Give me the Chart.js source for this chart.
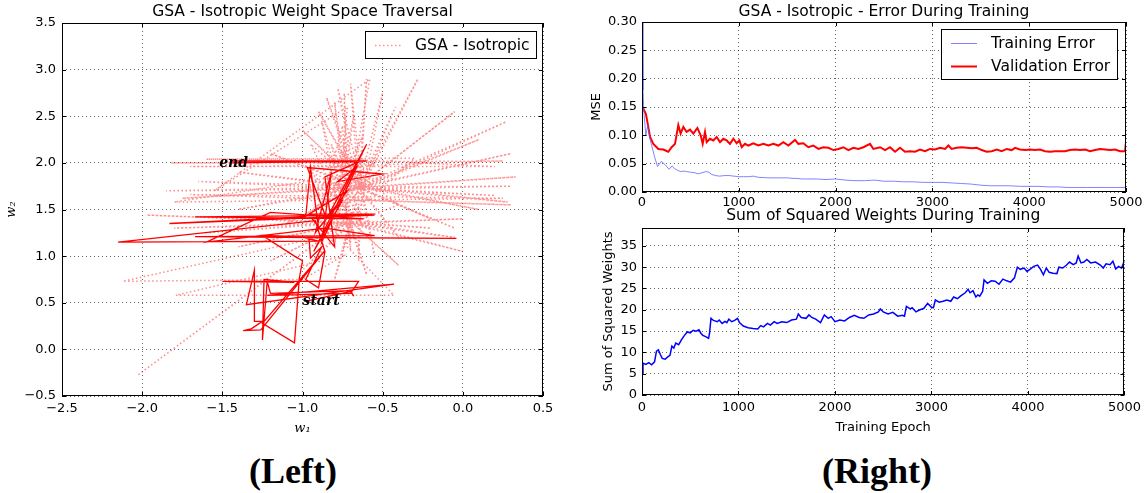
<!DOCTYPE html>
<html>
<head>
<meta charset="utf-8">
<script src="https://cdn.jsdelivr.net/npm/chart.js@4.4.1/dist/chart.umd.min.js"></script>
<style>
  body { margin: 0; background: #fff; width: 1146px; height: 493px; overflow: hidden; position: relative; }
  canvas { position: absolute; }
  #cLeft { left: 0; top: 0; }
  #cErr { left: 580px; top: 0; }
  #cSsw { left: 580px; top: 206px; }
  .panel { position: absolute; top: 450px; width: 200px; line-height: 40px; text-align: center;
           font: bold 36px "Liberation Serif", serif; color: #000; }
</style>
</head>
<body>
<canvas id="cLeft" width="560" height="440"></canvas>
<canvas id="cErr" width="566" height="210"></canvas>
<canvas id="cSsw" width="566" height="234"></canvas>
<div class="panel" style="left:193px">(Left)</div>
<div class="panel" style="left:777px">(Right)</div>
<script>
// ---- left: weight space traversal (w1, w2) ----
// dotted trail (GSA - Isotropic)
const dottedW1 = [
  -0.64, -0.60, -0.65, -0.70, -0.63, -0.78, -0.66, -0.85, -0.64, -0.90,
  -0.62, -0.50, -0.65, -0.42, -0.63, -0.28, -0.64, -0.05, -0.66, 0.27,
  -0.64, 0.10, -0.63, 0.30, -0.65, 0.33, -0.64, 0.30, -0.66, 0.20,
  -0.64, 0.28, -0.63, 0.10, -0.65, -0.05, -0.64, -0.20, -0.66, -0.40,
  -0.64, -0.55, -0.63, -0.65, -0.65, -0.75, -0.64, -0.90, -0.66, -1.10,
  -0.64, -1.40, -0.63, -1.75, -0.65, -1.85, -0.64, -1.65, -0.66, -1.40,
  -0.64, -1.20, -0.63, -1.00, -0.65, -0.95, -0.70, -1.97, -0.71, -1.80,
  -0.69, -1.60, -0.70, -1.40, -0.72, -1.20, -0.70, -1.00, -0.69, -0.80,
  -0.71, -0.60, -0.70, -0.40, -0.69, 0.00, -0.71, -0.05, -0.70, -0.20,
  -0.72, 0.00, -0.70, -0.40, -0.75, -1.82, 0.25, -0.72, -1.70, 0.20,
  -0.74, -1.60, -0.30, -0.84, -2.03, -0.85, -2.12, -1.00, -0.75, -1.79,
  -0.43, -0.72, -0.74, -0.70, -0.80, -0.68, -0.88, -0.75, -0.58, -1.55,
  -0.72, -0.80, -0.68, -0.85, -0.62, -0.90, -0.75, -0.70, -0.82, -0.60,
  -0.95, -0.55, -1.00, -0.50, -0.90, -0.55, -0.85, -0.65, -0.78, -0.60,
  -1.80, 0.25, -1.70, 0.30, -0.70
];
const dottedW2 = [
  1.74, 2.90, 1.72, 2.85, 1.76, 2.80, 1.73, 2.70, 1.75, 2.55,
  1.72, 2.75, 1.74, 2.60, 1.73, 2.90, 1.76, 2.55, 1.74, 2.44,
  1.72, 2.25, 1.75, 2.10, 1.73, 1.85, 1.74, 1.75, 1.72, 1.65,
  1.73, 1.58, 1.75, 1.50, 1.74, 1.30, 1.72, 1.40, 1.75, 1.20,
  1.73, 1.00, 1.74, 0.95, 1.76, 1.05, 1.72, 1.20, 1.74, 1.35,
  1.75, 1.50, 1.73, 1.62, 1.74, 1.70, 1.72, 1.80, 1.75, 1.90,
  1.73, 2.10, 1.74, 2.35, 1.76, 2.20, 1.36, 1.44, 1.35, 1.30,
  1.37, 1.25, 1.36, 1.10, 1.35, 0.95, 1.37, 0.85, 1.36, 0.75,
  1.35, 0.80, 1.37, 0.90, 1.36, 1.05, 1.35, 1.20, 1.37, 1.30,
  1.36, 1.40, 1.35, 1.55, 2.00, 2.00, 2.02, 1.97, 1.96, 1.96,
  2.04, 2.04, 2.05, 1.24, -0.28, 1.22, 0.73, 0.75, 1.00, 0.58,
  0.58, 1.10, 2.75, 1.05, 2.65, 1.20, 2.45, 1.30, 2.90, 1.70,
  2.60, 1.10, 2.50, 1.25, 2.30, 1.40, 2.40, 1.15, 2.20, 1.30,
  1.90, 1.60, 1.70, 1.85, 1.55, 2.00, 1.95, 1.45, 2.15, 1.90,
  1.58, 1.62, 1.66, 1.55, 1.60
];
// solid trail
const solidW1 = [
  -0.97, -0.70, -0.68, -0.70, -1.20, -1.22, -1.25, -1.24, -1.05, -1.50,
  -0.65, -0.70, -1.22, -0.43, -1.35, -1.30, -1.30, -1.25, -1.32, -1.37,
  -1.26, -0.86, -1.25, -1.05, -1.02, -1.00, -1.05, -1.25, -0.96, -0.95,
  -0.88, -0.98, -0.90, -0.86, -0.92, -2.15, -0.90, -1.00, -0.04, -0.94,
  -1.67, -0.55, -0.86, -1.60, -1.20, -0.62, -1.67, -0.55, -1.83, -0.98,
  -0.95, -0.90, -0.75, -0.93, -0.60, -0.85, -0.97, -0.50, -0.78, -0.66,
  -0.88, -0.82, -0.92, -0.72, -0.96, -0.55, -0.94, -0.80, -0.86, -0.65,
  -1.45, -0.60, -1.45
];
const solidW2 = [
  0.52, 0.62, 0.57, 0.63, 0.60, 0.73, 0.10, 0.75, 0.72, 0.73,
  0.73, 0.60, 0.58, 0.70, 0.48, 0.85, 0.30, 0.30, 0.22, 0.20,
  0.21, 1.06, 0.28, 0.07, 0.76, 0.95, 1.00, 1.22, 1.20, 0.98,
  1.10, 0.75, 0.66, 1.05, 1.38, 1.15, 1.16, 1.20, 1.19, 1.20,
  1.21, 1.22, 1.30, 1.15, 1.47, 1.40, 1.42, 1.44, 1.35, 1.42,
  1.95, 1.30, 1.60, 1.05, 2.20, 1.40, 1.95, 1.88, 1.80, 1.96,
  1.15, 1.90, 1.25, 1.70, 1.45, 1.45, 1.40, 1.10, 1.85, 2.01,
  2.02, 2.02, 2.00
];
const noteText = ['end', 'start'];
const noteW1 = [-1.52, -1.00];
const noteW2 = [2.00, 0.52];

// ---- right top: error during training ----
const trainEpochs = [
  0, 10, 20, 30, 40, 60, 80, 100, 130, 160,
  200, 240, 280, 310, 340, 370, 400, 430, 460, 500,
  540, 580, 620, 660, 690, 720, 760, 800, 850, 900,
  950, 1000, 1050, 1100, 1150, 1200, 1300, 1400, 1500, 1560,
  1600, 1650, 1700, 1800, 1900, 2000, 2100, 2200, 2300, 2400,
  2500, 2600, 2700, 2800, 2900, 3000, 3100, 3200, 3300, 3400,
  3500, 3600, 3700, 3800, 3900, 4000, 4100, 4200, 4300, 4400,
  4500, 4600, 4700, 4800, 4900, 5000
];
const trainErr = [
  0.300, 0.180, 0.140, 0.120, 0.100, 0.118, 0.095, 0.082, 0.062, 0.045,
  0.054, 0.048, 0.040, 0.046, 0.041, 0.038, 0.036, 0.037, 0.036, 0.035,
  0.034, 0.032, 0.034, 0.036, 0.035, 0.031, 0.029, 0.028, 0.029, 0.029,
  0.028, 0.027, 0.027, 0.027, 0.028, 0.026, 0.025, 0.025, 0.025, 0.024,
  0.024, 0.023, 0.023, 0.023, 0.022, 0.023, 0.021, 0.020, 0.020, 0.021,
  0.019, 0.019, 0.018, 0.018, 0.017, 0.017, 0.017, 0.016, 0.015, 0.014,
  0.012, 0.011, 0.011, 0.011, 0.010, 0.010, 0.010, 0.009, 0.009, 0.008,
  0.008, 0.008, 0.008, 0.008, 0.008, 0.008
];
const validEpochs = [
  0, 14, 40, 65, 83, 117, 169, 220, 272, 306,
  341, 375, 399, 427, 461, 496, 530, 572, 606, 627,
  651, 668, 702, 737, 771, 806, 840, 875, 909, 944,
  978, 1006, 1030, 1064, 1099, 1150, 1202, 1254, 1305, 1357,
  1409, 1460, 1512, 1581, 1615, 1667, 1718, 1770, 1822, 1873,
  1925, 1977, 2029, 2080, 2132, 2184, 2235, 2287, 2356, 2390,
  2459, 2511, 2562, 2614, 2666, 2717, 2769, 2821, 2872, 2924,
  2976, 3027, 3079, 3131, 3165, 3199, 3251, 3303, 3354, 3406,
  3458, 3509, 3561, 3613, 3664, 3716, 3768, 3819, 3854, 3905,
  3957, 4009, 4060, 4112, 4164, 4215, 4267, 4319, 4370, 4422,
  4474, 4525, 4577, 4629, 4680, 4732, 4784, 4835, 4887, 4939,
  4990, 5000, 5000
];
const validErr = [
  0.150, 0.147, 0.138, 0.115, 0.097, 0.085, 0.076, 0.075, 0.071, 0.079,
  0.085, 0.118, 0.103, 0.115, 0.106, 0.110, 0.103, 0.113, 0.100, 0.085,
  0.106, 0.088, 0.094, 0.091, 0.097, 0.088, 0.094, 0.091, 0.085, 0.094,
  0.086, 0.091, 0.079, 0.085, 0.082, 0.086, 0.082, 0.085, 0.082, 0.085,
  0.082, 0.088, 0.082, 0.092, 0.085, 0.086, 0.079, 0.082, 0.076, 0.079,
  0.078, 0.074, 0.076, 0.079, 0.074, 0.078, 0.076, 0.079, 0.085, 0.076,
  0.079, 0.074, 0.079, 0.071, 0.078, 0.071, 0.072, 0.071, 0.075, 0.072,
  0.076, 0.075, 0.078, 0.076, 0.082, 0.076, 0.078, 0.079, 0.078, 0.077,
  0.078, 0.074, 0.071, 0.072, 0.075, 0.072, 0.076, 0.074, 0.078, 0.075,
  0.074, 0.075, 0.074, 0.075, 0.072, 0.071, 0.072, 0.072, 0.072, 0.074,
  0.075, 0.074, 0.075, 0.072, 0.074, 0.076, 0.075, 0.074, 0.075, 0.072,
  0.072, 0.088, 0.035
];

// ---- right bottom: sum of squared weights ----
const sswEpochs = [
  0, 10, 40, 70, 100, 130, 150, 170, 190, 210,
  240, 270, 290, 310, 330, 350, 380, 410, 440, 470,
  500, 530, 560, 590, 610, 630, 660, 690, 700, 715,
  740, 780, 800, 830, 860, 880, 900, 930, 960, 990,
  1010, 1050, 1100, 1150, 1200, 1230, 1260, 1300, 1330, 1370,
  1400, 1450, 1500, 1550, 1600, 1620, 1650, 1700, 1730, 1760,
  1800, 1850, 1890, 1930, 1960, 2000, 2050, 2100, 2150, 2200,
  2250, 2300, 2350, 2400, 2450, 2470, 2500, 2550, 2600, 2650,
  2700, 2720, 2740, 2780, 2800, 2840, 2880, 2920, 2960, 3000,
  3020, 3040, 3080, 3120, 3160, 3200, 3230, 3270, 3300, 3350,
  3380, 3400, 3430, 3460, 3480, 3500, 3530, 3545, 3580, 3620,
  3660, 3700, 3740, 3780, 3820, 3860, 3890, 3920, 3960, 3990,
  4020, 4060, 4100, 4130, 4160, 4190, 4220, 4260, 4300, 4320,
  4360, 4400, 4430, 4470, 4500, 4520, 4550, 4580, 4610, 4650,
  4700, 4750, 4780, 4810, 4850, 4880, 4910, 4940, 4970, 5000
];
const sswValues = [
  5.0, 7.5, 7.2, 7.6, 7.1, 7.8, 10.3, 10.6, 9.5, 8.6,
  8.4, 9.0, 9.3, 11.5, 11.0, 12.2, 11.8, 13.0, 14.0, 14.8,
  14.6, 15.2, 15.0, 15.3, 14.5, 14.0, 13.7, 13.3, 14.5, 18.0,
  17.5, 17.2, 17.6, 16.8, 17.3, 17.0, 17.8, 17.2, 17.5, 18.0,
  17.0, 16.2, 15.8, 15.6, 15.5, 16.3, 16.0, 16.8, 16.4, 17.2,
  16.8, 17.2, 17.0, 17.6, 17.8, 19.0, 18.2, 18.0, 18.8, 18.2,
  17.8, 17.0, 18.8, 18.0, 18.4, 17.2, 17.6, 17.4, 18.2, 18.7,
  18.2, 18.0, 18.8, 19.0, 19.5, 20.2, 19.5, 19.0, 19.4, 18.5,
  18.7, 18.5, 20.8, 20.2, 20.5, 19.5, 20.0, 20.3, 21.5, 20.6,
  20.5, 22.3, 21.8, 22.0, 22.3, 22.0, 23.0, 22.6, 23.2, 24.0,
  24.8, 24.0, 24.5, 23.0, 23.5, 23.2, 24.3, 27.0, 26.2, 26.8,
  26.7, 26.0, 27.2, 26.8, 26.5, 27.5, 30.0, 29.5, 29.8, 29.0,
  29.5, 30.2, 30.5, 29.5, 28.2, 29.8, 28.8, 28.6, 28.5, 30.0,
  29.8, 30.5, 31.2, 30.6, 31.0, 32.6, 31.0, 31.2, 31.8, 31.0,
  31.2, 30.5, 29.8, 30.8, 30.6, 31.4, 29.6, 30.2, 29.8, 31.5
];

function pts(xs, ys) {
  return xs.map((x, i) => ({ x: x, y: ys[i] }));
}
function fmt(d) {
  return v => (v < 0 ? '\u2212' : '') + Math.abs(v).toFixed(d);
}

Chart.defaults.font.family = '"DejaVu Sans", sans-serif';
Chart.defaults.font.size = 13;
Chart.defaults.color = '#000';

// box round the plot + inward tick marks
const framePlugin = {
  id: 'frame',
  afterDatasetsDraw(chart) {
    const { ctx, chartArea: a, scales } = chart;
    ctx.save();
    ctx.strokeStyle = '#000';
    ctx.lineWidth = 1;
    ctx.beginPath();
    scales.x.ticks.forEach(t => {
      const p = Math.round(scales.x.getPixelForValue(t.value)) + 0.5;
      ctx.moveTo(p, a.bottom); ctx.lineTo(p, a.bottom - 4);
      ctx.moveTo(p, a.top); ctx.lineTo(p, a.top + 4);
    });
    scales.y.ticks.forEach(t => {
      const p = Math.round(scales.y.getPixelForValue(t.value)) + 0.5;
      ctx.moveTo(a.left, p); ctx.lineTo(a.left + 4, p);
      ctx.moveTo(a.right, p); ctx.lineTo(a.right - 4, p);
    });
    ctx.stroke();
    ctx.strokeRect(Math.round(a.left) + 0.5, Math.round(a.top) + 0.5,
      Math.round(a.right - a.left) - 1, Math.round(a.bottom - a.top) - 1);
    ctx.restore();
  }
};

// framed legend inside the plot, matplotlib style
const boxLegend = {
  id: 'boxLegend',
  afterDraw(chart, args, opts) {
    if (!opts || !opts.show) return;
    const { ctx, chartArea: a } = chart;
    const items = chart.data.datasets.filter(d => d.label);
    const h = opts.pad * 2 + items.length * opts.rowHeight;
    const x = Math.round(a.right - opts.right - opts.width);
    const y = Math.round(a.top + opts.top);
    ctx.save();
    ctx.fillStyle = '#fff';
    ctx.fillRect(x, y, opts.width, h);
    ctx.strokeStyle = '#000';
    ctx.lineWidth = 1;
    ctx.strokeRect(x + 0.5, y + 0.5, opts.width, h);
    ctx.font = '15.5px "DejaVu Sans"';
    ctx.textBaseline = 'middle';
    items.forEach((d, i) => {
      const cy = Math.round(y + opts.pad + opts.rowHeight * (i + 0.5)) + 0.5;
      ctx.save();
      ctx.strokeStyle = d.borderColor;
      ctx.lineWidth = d.borderWidth;
      ctx.setLineDash(d.borderDash || []);
      ctx.beginPath();
      ctx.moveTo(x + 10, cy);
      ctx.lineTo(x + 36, cy);
      ctx.stroke();
      ctx.restore();
      ctx.fillStyle = '#000';
      ctx.fillText(d.label, x + 50, cy);
    });
    ctx.restore();
  }
};

// "start" / "end" notes placed in data units
const notePlugin = {
  id: 'notes',
  afterDatasetsDraw(chart, args, opts) {
    if (!opts || !opts.text) return;
    const { ctx, scales } = chart;
    ctx.save();
    ctx.font = 'italic bold 14px "DejaVu Serif"';
    ctx.fillStyle = '#000';
    ctx.textBaseline = 'middle';
    opts.text.forEach((t, i) => {
      ctx.fillText(t, scales.x.getPixelForValue(opts.xs[i]), scales.y.getPixelForValue(opts.ys[i]));
    });
    ctx.restore();
  }
};

Chart.register(framePlugin, boxLegend, notePlugin);

const gridStyle = { color: 'rgba(0,0,0,0.6)', lineWidth: 1, drawTicks: false };
const borderStyle = { display: false, dash: [1, 3] };
const titleFont = { size: 15.5, weight: 'normal', lineHeight: 1.2 };

// ---- left chart ----
new Chart(document.getElementById('cLeft'), {
  type: 'scatter',
  data: {
    datasets: [{
      label: 'GSA - Isotropic',
      data: pts(dottedW1, dottedW2),
      showLine: true,
      borderColor: 'rgba(255,0,0,0.45)',
      borderWidth: 1.5,
      borderDash: [1.5, 2.5],
      pointRadius: 0
    }, {
      label: '',
      data: pts(solidW1, solidW2),
      showLine: true,
      borderColor: '#ff0000',
      borderWidth: 1.3,
      pointRadius: 0
    }]
  },
  options: {
    responsive: false,
    animation: false,
    layout: { padding: { left: 0, right: 17, top: 0, bottom: 0 } },
    plugins: {
      legend: { display: false },
      tooltip: { enabled: false },
      title: {
        display: true, fullSize: false,
        text: 'GSA - Isotropic Weight Space Traversal',
        font: titleFont,
        padding: { top: 2.7, bottom: 1.7 }
      },
      boxLegend: { show: true, right: 7, top: 8, width: 171, rowHeight: 23, pad: 2 },
      notes: { text: noteText, xs: noteW1, ys: noteW2 }
    },
    scales: {
      x: {
        type: 'linear', min: -2.5, max: 0.5,
        ticks: { stepSize: 0.5, padding: 5, maxRotation: 0, callback: fmt(1) },
        grid: gridStyle, border: borderStyle,
        title: { display: true, text: 'w\u2081', font: { family: '"DejaVu Serif"', style: 'italic', size: 13 }, padding: { top: 0, bottom: 4 } },
        afterFit: s => { s.height = 44; }
      },
      y: {
        type: 'linear', min: -0.5, max: 3.5,
        ticks: { stepSize: 0.5, padding: 6, callback: fmt(1) },
        grid: gridStyle, border: borderStyle,
        title: { display: true, text: 'w\u2082', font: { family: '"DejaVu Serif"', style: 'italic', size: 13 }, padding: { top: 4, bottom: 0 } },
        afterFit: s => { s.width = 62; }
      }
    }
  }
});

// ---- right top chart ----
new Chart(document.getElementById('cErr'), {
  type: 'scatter',
  data: {
    datasets: [{
      label: 'Training Error',
      data: pts(trainEpochs, trainErr),
      showLine: true,
      borderColor: 'rgba(90,90,255,0.75)',
      borderWidth: 1,
      pointRadius: 0
    }, {
      label: 'Validation Error',
      data: pts(validEpochs, validErr),
      showLine: true,
      borderColor: '#ff0000',
      borderWidth: 2,
      pointRadius: 0
    }]
  },
  options: {
    responsive: false,
    animation: false,
    layout: { padding: { left: 0, right: 20, top: 0, bottom: 0 } },
    plugins: {
      legend: { display: false },
      tooltip: { enabled: false },
      title: {
        display: true, fullSize: false,
        text: 'GSA - Isotropic - Error During Training',
        font: titleFont,
        padding: { top: 2.7, bottom: 0.7 }
      },
      boxLegend: { show: true, right: 9, top: 7, width: 176, rowHeight: 23, pad: 2 }
    },
    scales: {
      x: {
        type: 'linear', min: 0, max: 5000,
        ticks: { stepSize: 1000, padding: 3, maxRotation: 0, callback: v => String(v) },
        grid: gridStyle, border: borderStyle,
        afterFit: s => { s.height = 18; }
      },
      y: {
        type: 'linear', min: 0, max: 0.3,
        ticks: { stepSize: 0.05, padding: 5, callback: fmt(2) },
        grid: gridStyle, border: borderStyle,
        title: { display: true, text: 'MSE', font: { size: 13 }, padding: { top: 9, bottom: 0 } },
        afterFit: s => { s.width = 62; }
      }
    }
  }
});

// ---- right bottom chart ----
new Chart(document.getElementById('cSsw'), {
  type: 'scatter',
  data: {
    datasets: [{
      label: '',
      data: pts(sswEpochs, sswValues),
      showLine: true,
      borderColor: '#0000ff',
      borderWidth: 1.5,
      pointRadius: 0
    }]
  },
  options: {
    responsive: false,
    animation: false,
    layout: { padding: { left: 0, right: 20, top: 0, bottom: 0 } },
    plugins: {
      legend: { display: false },
      tooltip: { enabled: false },
      title: {
        display: true, fullSize: false,
        text: 'Sum of Squared Weights During Training',
        font: titleFont,
        padding: { top: 0.7, bottom: 2.7 }
      },
      boxLegend: { show: false }
    },
    scales: {
      x: {
        type: 'linear', min: 0, max: 5000,
        ticks: { stepSize: 1000, padding: 5, maxRotation: 0, callback: v => String(v) },
        grid: gridStyle, border: borderStyle,
        title: { display: true, text: 'Training Epoch', font: { size: 13 }, padding: { top: 0, bottom: 5 } },
        afterFit: s => { s.height = 45; }
      },
      y: {
        type: 'linear', min: 0, max: 39.2,
        ticks: { stepSize: 5, padding: 5 },
        afterBuildTicks: s => { s.ticks = s.ticks.filter(t => t.value % 5 === 0); },
        grid: gridStyle, border: borderStyle,
        title: { display: true, text: 'Sum of Squared Weights', font: { size: 13 }, padding: { top: 21, bottom: 0 } },
        afterFit: s => { s.width = 62; }
      }
    }
  }
});
</script>
</body>
</html>
